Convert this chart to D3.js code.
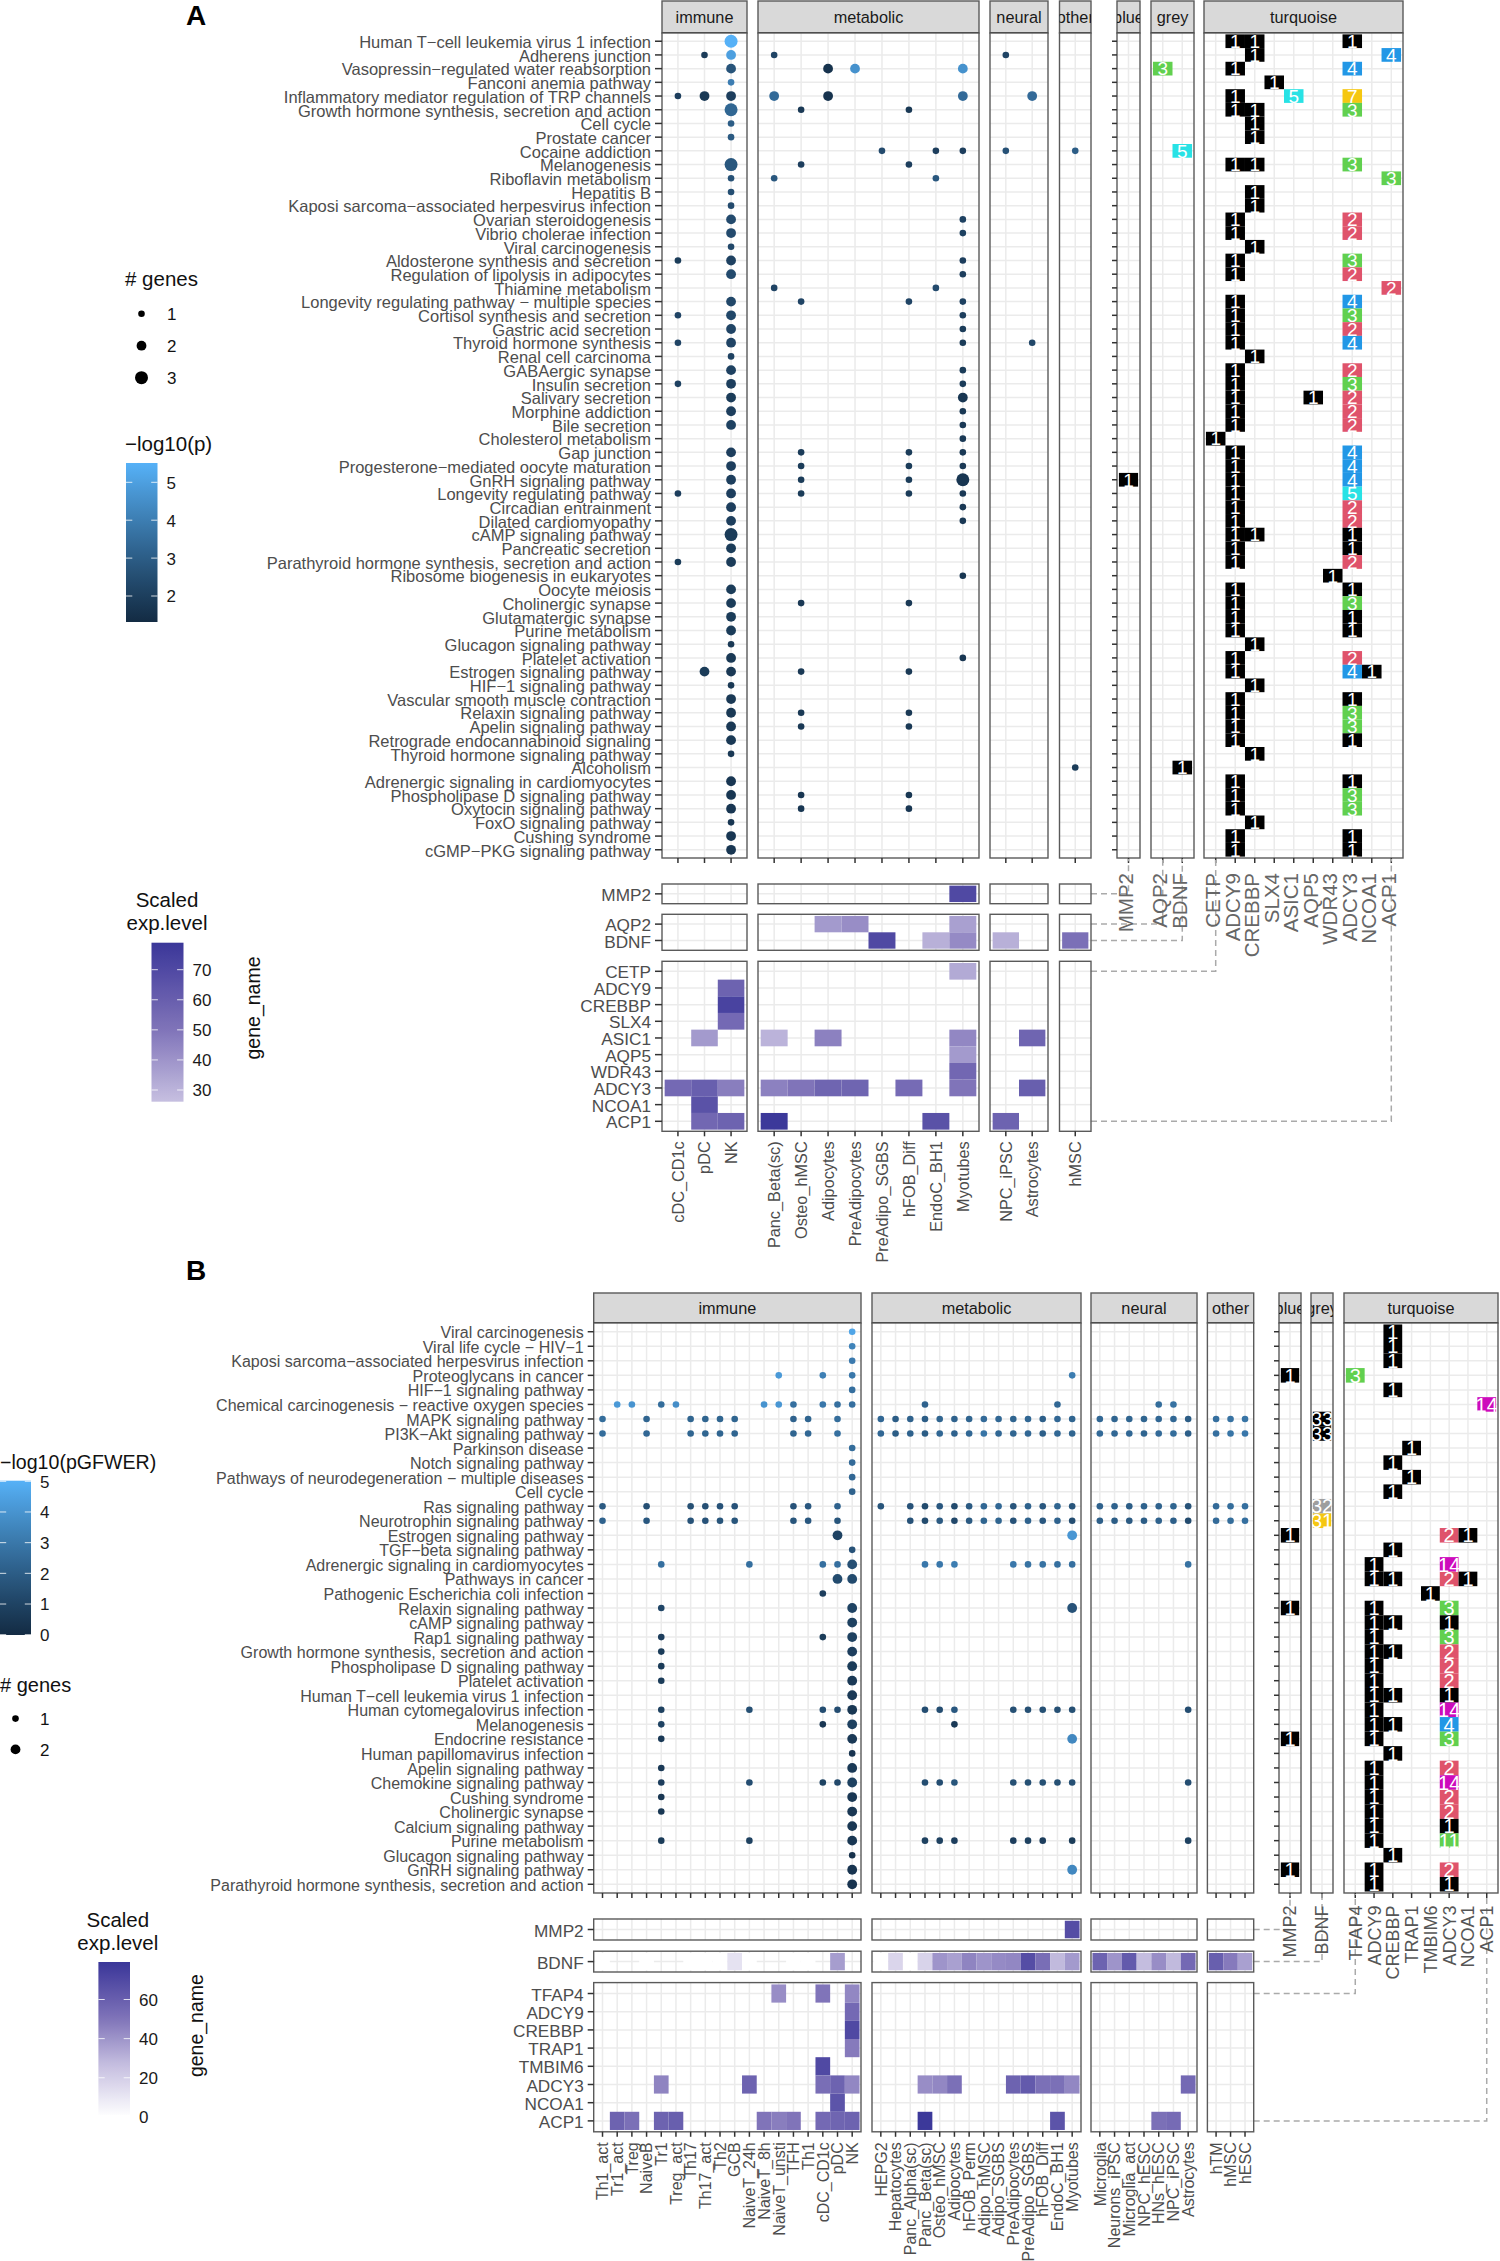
<!DOCTYPE html>
<html><head><meta charset="utf-8">
<script src="https://cdn.jsdelivr.net/npm/d3@7"></script>
<style>html,body{margin:0;padding:0;background:#fff}svg{display:block}text{font-family:"Liberation Sans",Arial,sans-serif}</style>
</head><body><svg id="fig" width="1500" height="2261"></svg>
<script>
// ---------- Panel A : categories ----------
const aPathways=["Human T−cell leukemia virus 1 infection","Adherens junction","Vasopressin−regulated water reabsorption","Fanconi anemia pathway","Inflammatory mediator regulation of TRP channels","Growth hormone synthesis, secretion and action","Cell cycle","Prostate cancer","Cocaine addiction","Melanogenesis","Riboflavin metabolism","Hepatitis B","Kaposi sarcoma−associated herpesvirus infection","Ovarian steroidogenesis","Vibrio cholerae infection","Viral carcinogenesis","Aldosterone synthesis and secretion","Regulation of lipolysis in adipocytes","Thiamine metabolism","Longevity regulating pathway − multiple species","Cortisol synthesis and secretion","Gastric acid secretion","Thyroid hormone synthesis","Renal cell carcinoma","GABAergic synapse","Insulin secretion","Salivary secretion","Morphine addiction","Bile secretion","Cholesterol metabolism","Gap junction","Progesterone−mediated oocyte maturation","GnRH signaling pathway","Longevity regulating pathway","Circadian entrainment","Dilated cardiomyopathy","cAMP signaling pathway","Pancreatic secretion","Parathyroid hormone synthesis, secretion and action","Ribosome biogenesis in eukaryotes","Oocyte meiosis","Cholinergic synapse","Glutamatergic synapse","Purine metabolism","Glucagon signaling pathway","Platelet activation","Estrogen signaling pathway","HIF−1 signaling pathway","Vascular smooth muscle contraction","Relaxin signaling pathway","Apelin signaling pathway","Retrograde endocannabinoid signaling","Thyroid hormone signaling pathway","Alcoholism","Adrenergic signaling in cardiomyocytes","Phospholipase D signaling pathway","Oxytocin signaling pathway","FoxO signaling pathway","Cushing syndrome","cGMP−PKG signaling pathway"];
const aImmune=["cDC_CD1c","pDC","NK"];
const aMetabolic=["Panc_Beta(sc)","Osteo_hMSC","Adipocytes","PreAdipocytes","PreAdipo_SGBS","hFOB_Diff","EndoC_BH1","Myotubes"];
const aNeural=["NPC_iPSC","Astrocytes"];
const aOther=["hMSC"];
const aGeneBlue=["MMP2"],aGeneGrey=["AQP2","BDNF"];
const aGeneTurq=["CETP","ADCY9","CREBBP","SLX4","ASIC1","AQP5","WDR43","ADCY3","NCOA1","ACP1"];

// Panel A dots: [pathway row (1-based), # genes, -log10(p)]
const aDots_cDC=[[5,1,2.0],[17,1,1.9],[21,1,2.2],[23,1,2.2],[26,1,2.1],[34,1,2.0],[39,1,1.9]];
const aDots_pDC=[[2,1,1.9],[5,2,1.8],[47,2,1.9]];
const aDots_NK=[[1,3,5.5],[2,2,5.0],[3,2,2.7],[4,1,4.0],[5,2,2.0],[6,3,3.3],[7,1,3.0],[8,1,2.9],[10,3,2.8],[11,1,2.6],[12,1,2.5],[13,1,2.4],[14,2,2.4],[15,2,2.4],[16,1,2.3],[17,2,2.1],[18,2,2.4],[20,2,2.3],[21,2,2.3],[22,2,2.2],[23,2,2.2],[24,1,2.1],[25,2,2.1],[26,2,2.0],[27,2,1.9],[28,2,2.0],[29,2,2.1],[31,2,2.0],[32,2,2.0],[33,2,2.0],[34,2,2.0],[35,2,2.0],[36,2,2.0],[37,3,1.9],[38,2,1.9],[39,2,1.9],[41,2,1.9],[42,2,1.9],[43,2,1.9],[44,2,1.9],[45,1,1.8],[46,2,1.8],[47,2,1.8],[48,1,1.8],[49,2,1.8],[50,2,1.8],[51,2,1.8],[52,2,1.8],[53,1,1.8],[55,2,1.7],[56,2,1.7],[57,2,1.7],[58,1,1.7],[59,2,1.7],[60,2,1.7]];
const aDots_Panc=[[2,1,2.2],[5,2,3.4],[11,1,2.8],[19,1,2.2]];
const aDots_Osteo=[[6,1,1.8],[10,1,2.0],[20,1,2.2],[31,1,1.9],[32,1,1.9],[33,1,1.9],[34,1,1.9],[42,1,1.8],[47,1,1.8],[50,1,1.8],[51,1,1.8],[56,1,1.7],[57,1,1.7]];
const aDots_Adipo=[[3,2,1.6],[5,2,1.6]];
const aDots_PreAdipo=[[3,2,4.6]];
const aDots_SGBS=[[9,1,2.4]];
const aDots_hFOB=[[6,1,1.8],[10,1,2.0],[20,1,2.2],[31,1,1.9],[32,1,1.9],[33,1,1.9],[34,1,1.9],[42,1,1.8],[47,1,1.8],[50,1,1.8],[51,1,1.8],[56,1,1.7],[57,1,1.7]];
const aDots_EndoC=[[9,1,2.0],[11,1,2.8],[19,1,2.4]];
const aDots_Myo=[[3,2,4.6],[5,2,3.4],[9,1,2.0],[14,1,2.1],[15,1,2.1],[17,1,2.0],[18,1,2.0],[20,1,2.1],[21,1,2.0],[22,1,1.9],[23,1,1.9],[25,1,1.9],[26,1,1.9],[27,2,1.7],[28,1,1.8],[29,1,1.8],[30,1,1.8],[31,1,1.8],[32,1,1.8],[33,3,1.7],[34,1,1.8],[35,1,1.8],[36,1,1.8],[40,1,1.7],[46,1,1.7]];
const aDots_NPC=[[2,1,2.2],[9,1,2.6]];
const aDots_Astro=[[5,2,3.4],[23,1,2.3]];
const aDots_hMSC=[[9,1,3.0],[54,1,1.9]];

// Panel A overlap tiles: [pathway row, count]
const aT_MMP2=[[33,1]],aT_AQP2=[[3,3]],aT_BDNF=[[9,5],[54,1]];
const aT_CETP=[[30,1]];
const aT_ADCY9=[1,3,5,6,10,14,15,17,18,20,21,22,23,25,26,27,28,29,31,32,33,34,35,36,37,38,39,41,42,43,44,46,47,49,50,51,52,55,56,57,59,60].map(r=>[r,1]);
const aT_CREBBP=[1,2,6,7,8,10,12,13,16,24,37,45,48,53,58].map(r=>[r,1]);
const aT_SLX4=[[4,1]],aT_ASIC1=[[5,5]],aT_AQP5=[[27,1]],aT_WDR43=[[40,1]];
const aT_ADCY3=[[1,1],[3,4],[5,7],[6,3],[10,3],[14,2],[15,2],[17,3],[18,2],[20,4],[21,3],[22,2],[23,4],[25,2],[26,3],[27,2],[28,2],[29,2],[31,4],[32,4],[33,4],[34,5],[35,2],[36,2],[37,1],[38,1],[39,2],[41,1],[42,3],[43,1],[44,1],[46,2],[47,4],[49,1],[50,3],[51,3],[52,1],[55,1],[56,3],[57,3],[59,1],[60,1]];
const aT_NCOA1=[[47,1]],aT_ACP1=[[2,4],[11,3],[19,2]];

// Panel A expression: [gene, cell, scaled level]
const aExpr=[["MMP2","Myotubes",70],["AQP2","Adipocytes",38],["AQP2","PreAdipocytes",42],["AQP2","Myotubes",36],["BDNF","PreAdipo_SGBS",70],["BDNF","EndoC_BH1",31],["BDNF","Myotubes",43],["BDNF","NPC_iPSC",31],["BDNF","hMSC",52],["CETP","Myotubes",33],["ADCY9","NK",58],["CREBBP","NK",73],["SLX4","NK",55],["ASIC1","pDC",38],["ASIC1","Panc_Beta(sc)",30],["ASIC1","Adipocytes",46],["ASIC1","Myotubes",44],["ASIC1","Astrocytes",57],["AQP5","Myotubes",38],["WDR43","Myotubes",56],["ADCY3","cDC_CD1c",55],["ADCY3","pDC",60],["ADCY3","NK",47],["ADCY3","Panc_Beta(sc)",46],["ADCY3","Osteo_hMSC",50],["ADCY3","Adipocytes",57],["ADCY3","PreAdipocytes",57],["ADCY3","hFOB_Diff",54],["ADCY3","Myotubes",50],["ADCY3","Astrocytes",60],["NCOA1","pDC",66],["ACP1","pDC",56],["ACP1","NK",58],["ACP1","Panc_Beta(sc)",78],["ACP1","EndoC_BH1",66],["ACP1","NPC_iPSC",58]];

// ---------- Panel B : categories ----------
const bPathways=["Viral carcinogenesis","Viral life cycle − HIV−1","Kaposi sarcoma−associated herpesvirus infection","Proteoglycans in cancer","HIF−1 signaling pathway","Chemical carcinogenesis − reactive oxygen species","MAPK signaling pathway","PI3K−Akt signaling pathway","Parkinson disease","Notch signaling pathway","Pathways of neurodegeneration − multiple diseases","Cell cycle","Ras signaling pathway","Neurotrophin signaling pathway","Estrogen signaling pathway","TGF−beta signaling pathway","Adrenergic signaling in cardiomyocytes","Pathways in cancer","Pathogenic Escherichia coli infection","Relaxin signaling pathway","cAMP signaling pathway","Rap1 signaling pathway","Growth hormone synthesis, secretion and action","Phospholipase D signaling pathway","Platelet activation","Human T−cell leukemia virus 1 infection","Human cytomegalovirus infection","Melanogenesis","Endocrine resistance","Human papillomavirus infection","Apelin signaling pathway","Chemokine signaling pathway","Cushing syndrome","Cholinergic synapse","Calcium signaling pathway","Purine metabolism","Glucagon signaling pathway","GnRH signaling pathway","Parathyroid hormone synthesis, secretion and action"];
const bImmune=["Th1_act","Tr1_act","Treg","NaiveB","Tr1","Treg_act","Th17","Th17_act","Th2","GCB","NaiveT_24h","NaiveT_8h","NaiveT_unsti","TFH","Th1","cDC_CD1c","pDC","NK"];
const bMetabolic=["HEPG2","Hepatocytes","Panc_Alpha(sc)","Panc_Beta(sc)","Osteo_hMSC","Adipocytes","hFOB_Perm","Adipo_hMSC","Adipo_SGBS","PreAdipocytes","PreAdipo_SGBS","hFOB_Diff","EndoC_BH1","Myotubes"];
const bNeural=["Microglia","Neurons_iPSC","Microglia_act","NPC_hESC","HNs_hESC","NPC_iPSC","Astrocytes"];
const bOther=["hTM","hMSC","hESC"];
const bGeneBlue=["MMP2"],bGeneGrey=["BDNF"];
const bGeneTurq=["TFAP4","ADCY9","CREBBP","TRAP1","TMBIM6","ADCY3","NCOA1","ACP1"];

// Panel B dots: [pathway row (1-based), # genes, [column indices in the facet], [-log10(pGFWER) per column]]
const bDotsImmune=[[1,1,[17],[4.6]],[2,1,[17],[3.4]],[3,1,[17],[3.1]],[4,1,[12,15,17],[4.2,3.3,3.0]],[5,1,[17],[2.7]],
[6,1,[1,2,4,5,11,12,13,15,16,17],[4.2,4.0,2.6,3.8,4.0,4.1,2.7,3.0,2.7,2.7]],
[7,1,[0,3,6,7,8,9,13,14,16],[2.6,2.3,2.3,2.3,2.3,2.3,2.2,2.3,2.6]],
[8,1,[0,3,6,7,8,9,13,14,16],[2.6,2.4,2.3,2.3,2.3,2.3,2.3,2.4,2.7]],
[9,1,[17],[2.6]],[10,1,[17],[2.5]],[11,1,[17],[2.4]],[12,1,[17],[2.2]],
[13,1,[0,3,6,7,8,9,13,14,16],[1.9,1.5,1.5,1.5,1.6,1.6,1.6,1.8,2.2]],
[14,1,[0,3,6,7,8,9,13,14,16],[2.2,1.8,1.6,1.6,1.7,1.7,1.7,1.8,1.7]],
[15,2,[16],[1.0]],[16,1,[17],[1.6]],[17,1,[4,10,15,16],[2.7,2.7,2.7,2.7]],[17,2,[17],[1.5]],[18,2,[16,17],[1.3,1.3]],[19,1,[15],[0.8]],
[20,1,[4],[1.1]],[20,2,[17],[1.0]],[21,2,[17],[0.9]],[22,1,[4,15],[0.8,0.7]],[22,2,[17],[0.9]],[23,1,[4],[0.7]],[23,2,[17],[0.8]],[24,1,[4],[0.7]],[24,2,[17],[0.7]],[25,1,[4],[0.7]],[25,2,[17],[0.6]],[26,2,[17],[0.6]],
[27,1,[4,10,15,16],[0.9,1.5,1.4,1.4]],[27,2,[17],[0.5]],[28,1,[4,15],[1.0,0.5]],[28,2,[17],[0.9]],[29,1,[4],[0.6]],[29,2,[17],[0.6]],[30,1,[17],[0.4]],[31,1,[4],[0.6]],[31,2,[17],[0.6]],
[32,1,[4,10,15,16],[0.8,1.4,1.0,1.2]],[32,2,[17],[0.9]],[33,1,[4],[0.5]],[33,2,[17],[0.5]],[34,1,[4],[0.5]],[34,2,[17],[0.5]],[35,2,[17],[0.5]],[36,1,[4,10],[0.7,0.9]],[36,2,[17],[0.5]],[37,1,[17],[0.3]],[38,2,[17],[0.4]],[39,2,[17],[0.4]]];
const bDotsMetabolic=[[4,1,[13],[3.2]],[6,1,[3,12],[2.2,2.4]],
[7,1,[0,1,2,3,4,5,6,7,8,9,10,11,12,13],[2.4,2.0,2.2,2.0,2.3,2.2,2.3,2.5,2.4,2.3,2.4,2.1,2.4,2.3]],
[8,1,[0,1,2,3,4,5,6,7,8,9,10,11,12,13],[2.4,2.0,2.2,2.0,2.4,2.2,2.4,2.9,2.4,2.3,2.4,2.1,2.4,2.3]],
[13,1,[0,2,3,4,5,6,7,8,9,10,11,12,13],[1.7,1.6,1.3,1.8,1.3,1.9,2.4,2.4,1.7,2.2,1.8,2.3,1.7]],
[14,1,[2,3,4,5,6,7,8,9,10,11,12,13],[1.6,1.3,1.9,1.2,1.9,2.3,2.3,1.6,2.2,1.8,2.2,1.4]],
[15,2,[13],[4.1]],[17,1,[3,4,5,9,10,11,12,13],[3.0,3.0,3.2,3.0,2.8,2.8,2.7,2.7]],[20,2,[13],[1.6]],
[27,1,[3,4,5,9,10,11,12,13],[1.4,1.4,1.8,1.5,1.5,1.5,1.5,1.5]],[28,1,[5],[0.6]],[29,2,[13],[3.6]],
[32,1,[3,4,5,9,10,11,12,13],[1.4,1.4,1.7,1.5,1.5,1.5,1.5,1.5]],[36,1,[3,4,5,9,10,11,13],[0.9,0.9,0.8,0.8,0.9,0.8,0.7]],[38,2,[13],[3.6]]];
const bDotsNeural=[[6,1,[4,5],[2.6,2.8]],
[7,1,[0,1,2,3,4,5,6],[2.4,2.3,2.3,2.3,2.4,2.4,2.0]],[8,1,[0,1,2,3,4,5,6],[2.5,2.4,2.4,2.3,2.5,2.6,2.1]],
[13,1,[0,1,2,3,4,5,6],[2.2,2.2,2.0,2.2,2.2,2.3,1.6]],[14,1,[0,1,2,3,4,5,6],[2.1,2.0,1.9,2.0,2.2,2.1,1.3]],
[17,1,[6],[2.8]],[27,1,[6],[1.4]],[32,1,[6],[1.4]],[36,1,[6],[0.9]]];
const bDotsOther=[[7,1,[0,1,2],[2.7,2.8,2.9]],[8,1,[0,1,2],[2.7,2.9,3.0]],[13,1,[0,1,2],[2.5,2.6,2.7]],[14,1,[0,1,2],[2.5,2.6,2.7]]];

// Panel B overlap tiles: [pathway row, count]
const bT_MMP2=[4,15,20,29,38].map(r=>[r,1]);
const bT_BDNF=[[7,33],[8,33],[13,32],[14,31]];
const bT_TFAP4=[[4,3]];
const bT_ADCY9=[17,18,20,21,22,23,24,25,26,27,28,29,31,32,33,34,35,36,38,39].map(r=>[r,1]);
const bT_CREBBP=[1,2,3,5,10,12,16,18,21,23,26,28,30,37].map(r=>[r,1]);
const bT_TRAP1=[[9,1],[11,1]],bT_TMBIM6=[[19,1]];
const bT_ADCY3=[[15,2],[17,14],[18,2],[20,3],[21,1],[22,3],[23,2],[24,2],[25,2],[26,1],[27,14],[28,4],[29,3],[31,2],[32,14],[33,2],[34,2],[35,1],[36,11],[38,2],[39,1]];
const bT_NCOA1=[[15,1],[18,1]],bT_ACP1=[[6,14]];

// Panel B expression: [gene, cell, scaled level]
const bExprImmune=[["BDNF","Th1_act",0],["BDNF","NaiveB",0],["BDNF","Th17",0],["BDNF","Th17_act",0],["BDNF","Th2",0],["BDNF","GCB",12],["BDNF","NaiveT_24h",0],["BDNF","TFH",0],["BDNF","Th1",0],["BDNF","pDC",37],
["TFAP4","NaiveT_unsti",42],["TFAP4","cDC_CD1c",50],["TFAP4","NK",44],["ADCY9","NK",55],["CREBBP","NK",70],["TRAP1","NK",48],["TMBIM6","cDC_CD1c",70],
["ADCY3","Tr1",45],["ADCY3","NaiveT_24h",58],["ADCY3","cDC_CD1c",53],["ADCY3","pDC",58],["ADCY3","NK",44],["NCOA1","pDC",65],
["ACP1","Tr1_act",58],["ACP1","Treg",52],["ACP1","Tr1",58],["ACP1","Treg_act",60],["ACP1","NaiveT_8h",50],["ACP1","NaiveT_unsti",47],["ACP1","TFH",50],["ACP1","cDC_CD1c",55],["ACP1","pDC",57],["ACP1","NK",58]];
const bExprOther=[["MMP2","Myotubes",68],
["BDNF","HEPG2",0],["BDNF","Hepatocytes",17],["BDNF","Panc_Alpha(sc)",0],["BDNF","Panc_Beta(sc)",18],["BDNF","Osteo_hMSC",40],["BDNF","Adipocytes",36],["BDNF","hFOB_Perm",45],["BDNF","Adipo_hMSC",40],["BDNF","Adipo_SGBS",43],["BDNF","PreAdipocytes",44],["BDNF","PreAdipo_SGBS",68],["BDNF","hFOB_Diff",53],["BDNF","EndoC_BH1",28],["BDNF","Myotubes",38],
["BDNF","Microglia",58],["BDNF","Neurons_iPSC",40],["BDNF","Microglia_act",62],["BDNF","NPC_hESC",27],["BDNF","HNs_hESC",42],["BDNF","NPC_iPSC",28],["BDNF","Astrocytes",55],["BDNF","hTM",60],["BDNF","hMSC",48],["BDNF","hESC",36],
["ADCY3","Panc_Beta(sc)",42],["ADCY3","Osteo_hMSC",44],["ADCY3","Adipocytes",52],["ADCY3","PreAdipocytes",58],["ADCY3","PreAdipo_SGBS",62],["ADCY3","hFOB_Diff",52],["ADCY3","EndoC_BH1",52],["ADCY3","Myotubes",44],["ADCY3","Astrocytes",55],
["ACP1","Panc_Beta(sc)",78],["ACP1","EndoC_BH1",65],["ACP1","HNs_hESC",52],["ACP1","NPC_iPSC",54]];

// Tick labels of the legends
const aColorTicks=[2,3,4,5],aExprTicks=[30,40,50,60,70],bColorTicks=[0,1,2,3,4,5],bExprTicks=[0,20,40,60];
const aSizes=[1,2,3],bSizes=[1,2];

// ---------- Scales & styles ----------
const svg=d3.select("#fig");
const defs=svg.append("defs");
const radius=d3.scaleOrdinal([1,2,3],[3.3,4.9,6.5]);
const rPalette=["#9E9E9E","#000000","#DF536B","#61D04F","#2297E6","#28E2E5","#CD0BBC","#F5C710"];
const heat=d3.scaleLinear([0,27,50,70,79],["#FFFFFF","#C4BDDF","#8074B9","#5049A3","#3A3799"]).clamp(true);
const pA=d3.scaleLinear([1.32,5.5],["#132B43","#56B1F7"]).interpolate(d3.interpolateLab);
const pB=d3.scaleLinear([0,5.02],["#132B43","#56B1F7"]).interpolate(d3.interpolateLab);
const INK="#4D4D4D",BORDER="#5A5A5A",GRID="#EBEBEB";
let clipId=0;

function band(domain,a,b){return d3.scaleBand().domain(domain).range([a,b]).paddingInner(0).paddingOuter(0.1);}
function mid(s,v){return s(v)+s.bandwidth()/2;}

function panelFrame(x,y){
  const [x0,x1]=x.range(),[y0,y1]=y.range();
  const g=svg.append("g");
  g.append("rect").attr("x",x0).attr("y",y0).attr("width",x1-x0).attr("height",y1-y0).attr("fill","#fff");
  g.selectAll(".gx").data(x.domain()).join("line").attr("x1",d=>mid(x,d)).attr("x2",d=>mid(x,d)).attr("y1",y0).attr("y2",y1).attr("stroke",GRID).attr("stroke-width",1.5);
  g.selectAll(".gy").data(y.domain()).join("line").attr("y1",d=>mid(y,d)).attr("y2",d=>mid(y,d)).attr("x1",x0).attr("x2",x1).attr("stroke",GRID).attr("stroke-width",1.5);
  return g;
}
function border(x,y,g){
  const [x0,x1]=x.range(),[y0,y1]=y.range();
  g.append("rect").attr("x",x0).attr("y",y0).attr("width",x1-x0).attr("height",y1-y0).attr("fill","none").attr("stroke",BORDER).attr("stroke-width",1.4);
}
function strip(name,x0,x1,y0,y1,fs){
  const id="clip"+(++clipId);
  defs.append("clipPath").attr("id",id).append("rect").attr("x",x0).attr("y",y0).attr("width",x1-x0).attr("height",y1-y0);
  const g=svg.append("g");
  g.append("rect").attr("x",x0).attr("y",y0).attr("width",x1-x0).attr("height",y1-y0).attr("fill","#D9D9D9").attr("stroke",BORDER).attr("stroke-width",1.4);
  g.append("line").attr("x1",x0).attr("x2",x1).attr("y1",y1).attr("y2",y1).attr("stroke","#333").attr("stroke-width",1.8);
  g.append("text").attr("clip-path",`url(#${id})`).attr("x",(x0+x1)/2).attr("y",(y0+y1)/2).attr("dy","0.36em").attr("text-anchor","middle").attr("font-size",fs).attr("fill","#1A1A1A").text(name);
}
function yAxis(y,x0,tick,gap,fs){
  const g=svg.append("g");
  g.selectAll("line").data(y.domain()).join("line").attr("x1",x0-tick).attr("x2",x0).attr("y1",d=>mid(y,d)).attr("y2",d=>mid(y,d)).attr("stroke","#333").attr("stroke-width",1.5);
  if(gap!==null) g.selectAll("text").data(y.domain()).join("text").attr("x",x0-tick-gap).attr("y",d=>mid(y,d)).attr("dy","0.41em").attr("text-anchor","end").attr("font-size",fs).attr("fill",INK).text(d=>d);
}
function xTicks(x,y1){
  svg.append("g").selectAll("line").data(x.domain()).join("line").attr("x1",d=>mid(x,d)).attr("x2",d=>mid(x,d)).attr("y1",y1).attr("y2",y1+5).attr("stroke","#333").attr("stroke-width",1.5);
}
function xLabels(x,yTop,fs,fill,dx){
  svg.append("g").selectAll("text").data(x.domain()).join("text")
    .attr("transform",d=>`translate(${mid(x,d)+dx},${yTop}) rotate(-90)`).attr("dy","0.36em").attr("text-anchor","end").attr("font-size",fs).attr("fill",fill).text(d=>d);
}
function dots(g,x,y,rows,color,items){
  // items : [cell, row, n, value]
  g.selectAll("circle").data(items).join("circle").attr("cx",d=>mid(x,d[0])).attr("cy",d=>mid(y,rows[d[1]-1])).attr("r",d=>radius(d[2])).attr("fill",d=>color(d[3]));
}
function tiles(g,x,y,rows,items,fs){
  // items : [gene, row, count]
  g.selectAll("rect.t").data(items).join("rect").attr("class","t").attr("x",d=>x(d[0])).attr("y",d=>y(rows[d[1]-1])).attr("width",x.bandwidth()).attr("height",y.bandwidth()).attr("fill",d=>rPalette[d[2]%8]);
  g.selectAll("text.t").data(items).join("text").attr("class","t").attr("x",d=>mid(x,d[0])).attr("y",d=>mid(y,rows[d[1]-1])).attr("dy","0.36em").attr("text-anchor","middle").attr("font-size",fs).attr("fill","#fff").text(d=>d[2]);
}
function heatTiles(g,x,y,items){
  const cur=items.filter(d=>y.domain().includes(d[0])&&x.domain().includes(d[1]));
  g.selectAll("rect.h").data(cur).join("rect").attr("class","h").attr("x",d=>x(d[1])).attr("y",d=>y(d[0])).attr("width",x.bandwidth()).attr("height",y.bandwidth()).attr("fill",d=>heat(d[2]));
}
function connector(xStart,yRow,xGene,yTop){
  svg.append("path").attr("d",d3.line()([[xStart,yRow],[xGene,yRow],[xGene,yTop]])).attr("fill","none").attr("stroke","#AAAAAA").attr("stroke-width",1.5).attr("stroke-dasharray","6,4");
}
function colorBar(x0,x1,y0,y1,scale,ticks,id){
  const grad=defs.append("linearGradient").attr("id",id).attr("x1",0).attr("x2",0).attr("y1",1).attr("y2",0);
  const vy=scale.pos;
  d3.range(0,1.001,0.05).forEach(t=>{const v=vy.invert(y1+(y0-y1)*t);grad.append("stop").attr("offset",t).attr("stop-color",scale.col(v));});
  const g=svg.append("g");
  g.append("rect").attr("x",x0).attr("y",y0).attr("width",x1-x0).attr("height",y1-y0).attr("fill",`url(#${id})`);
  const tw=(x1-x0)/5;
  g.selectAll("line.a").data(ticks).join("line").attr("class","a").attr("x1",x0).attr("x2",x0+tw).attr("y1",d=>vy(d)).attr("y2",d=>vy(d)).attr("stroke","#fff").attr("stroke-opacity",.8);
  g.selectAll("line.b").data(ticks).join("line").attr("class","b").attr("x1",x1-tw).attr("x2",x1).attr("y1",d=>vy(d)).attr("y2",d=>vy(d)).attr("stroke","#fff").attr("stroke-opacity",.8);
  g.selectAll("text").data(ticks).join("text").attr("x",x1+9).attr("y",d=>vy(d)).attr("dy","0.38em").attr("font-size",17).attr("fill","#1A1A1A").text(d=>d);
}
function label(x,y,t,fs,anchor="start",extra={}){
  const e=svg.append("text").attr("x",x).attr("y",y).attr("font-size",fs).attr("text-anchor",anchor).attr("fill","#111").text(t);
  Object.entries(extra).forEach(([k,v])=>e.attr(k,v));return e;
}

// ---------- Generic composition ----------
function composite(cfg){
  const y=band(cfg.rows,cfg.dotTop,cfg.dotBottom);
  let first=true;
  cfg.facets.forEach(f=>{
    const x=band(f.cells,f.x0,f.x1);
    f.x=x;
    strip(f.name,f.x0,f.x1,cfg.stripTop,cfg.dotTop,16.3);
    const g=panelFrame(x,y);
    dots(g,x,y,cfg.rows,cfg.color,f.dots);
    border(x,y,g);
    if(first){yAxis(y,f.x0,cfg.tick,4,cfg.rowFont);first=false;}
    xTicks(x,cfg.dotBottom);
  });
  let firstR=true;
  cfg.tileFacets.forEach(f=>{
    const x=band(f.genes,f.x0,f.x1);
    f.x=x;
    strip(f.name,f.x0,f.x1,cfg.stripTop,cfg.dotTop,16.3);
    const g=panelFrame(x,y);
    tiles(g,x,y,cfg.rows,f.tiles,cfg.digitFont);
    border(x,y,g);
    if(firstR){yAxis(y,f.x0,5,null);firstR=false;}
    xTicks(x,cfg.dotBottom);
  });
  const lastRight=cfg.facets[cfg.facets.length-1].x1;
  cfg.heatGroups.forEach(grp=>{
    const yh=band(grp.genes,grp.y0,grp.y1);
    grp.y=yh;
    grp.links.forEach(gene=>{
      const tf=cfg.tileFacets.find(t=>t.genes.includes(gene));
      connector(lastRight,mid(yh,gene),mid(tf.x,gene),cfg.dotBottom+1);
    });
  });
  cfg.tileFacets.forEach(f=>xLabels(f.x,cfg.geneTop,cfg.geneFont,cfg.geneInk,cfg.geneDx));
  cfg.heatGroups.forEach((grp,gi)=>{
    cfg.facets.forEach((f,fi)=>{
      const g=panelFrame(f.x,grp.y);
      heatTiles(g,f.x,grp.y,cfg.expr);
      border(f.x,grp.y,g);
      if(fi===0) yAxis(grp.y,f.x0,cfg.tick,4,cfg.geneAxisFont);
      if(gi===cfg.heatGroups.length-1){xTicks(f.x,grp.y1);xLabels(f.x,grp.y1+cfg.cellGap,cfg.cellFont,INK,0);}
    });
  });
}
const flat=(cell,arr)=>arr.map(d=>[cell,d[0],d[1],d[2]]);
const flatT=(gene,arr)=>arr.map(d=>[gene,d[0],d[1]]);
const flatB=(cells,arr)=>arr.flatMap(([r,n,cols,vals])=>cols.map((c,i)=>[cells[c],r,n,vals[i]]));

// ---------- Panel A ----------
composite({
  rows:aPathways,stripTop:1,dotTop:33,dotBottom:858,tick:7,rowFont:16.5,digitFont:19,color:pA,
  geneTop:873,geneFont:20.5,geneInk:"#666666",geneDx:-3,geneAxisFont:17.2,cellFont:16.3,cellGap:10,expr:aExpr,
  facets:[
    {name:"immune",x0:662,x1:747,cells:aImmune,dots:[...flat("cDC_CD1c",aDots_cDC),...flat("pDC",aDots_pDC),...flat("NK",aDots_NK)]},
    {name:"metabolic",x0:758,x1:979,cells:aMetabolic,dots:[...flat("Panc_Beta(sc)",aDots_Panc),...flat("Osteo_hMSC",aDots_Osteo),...flat("Adipocytes",aDots_Adipo),...flat("PreAdipocytes",aDots_PreAdipo),...flat("PreAdipo_SGBS",aDots_SGBS),...flat("hFOB_Diff",aDots_hFOB),...flat("EndoC_BH1",aDots_EndoC),...flat("Myotubes",aDots_Myo)]},
    {name:"neural",x0:990,x1:1048,cells:aNeural,dots:[...flat("NPC_iPSC",aDots_NPC),...flat("Astrocytes",aDots_Astro)]},
    {name:"other",x0:1059.5,x1:1091,cells:aOther,dots:flat("hMSC",aDots_hMSC)}
  ],
  tileFacets:[
    {name:"blue",x0:1117,x1:1140,genes:aGeneBlue,tiles:flatT("MMP2",aT_MMP2)},
    {name:"grey",x0:1151,x1:1194,genes:aGeneGrey,tiles:[...flatT("AQP2",aT_AQP2),...flatT("BDNF",aT_BDNF)]},
    {name:"turquoise",x0:1204,x1:1403,genes:aGeneTurq,tiles:[...flatT("CETP",aT_CETP),...flatT("ADCY9",aT_ADCY9),...flatT("CREBBP",aT_CREBBP),...flatT("SLX4",aT_SLX4),...flatT("ASIC1",aT_ASIC1),...flatT("AQP5",aT_AQP5),...flatT("WDR43",aT_WDR43),...flatT("ADCY3",aT_ADCY3),...flatT("NCOA1",aT_NCOA1),...flatT("ACP1",aT_ACP1)]}
  ],
  heatGroups:[
    {genes:["MMP2"],y0:884,y1:903.7,links:["MMP2"]},
    {genes:["AQP2","BDNF"],y0:914.3,y1:950.3,links:["AQP2","BDNF"]},
    {genes:aGeneTurq,y0:961.3,y1:1131.3,links:["CETP","ACP1"]}
  ]
});
label(186,25,"A",28,"start",{"font-weight":"bold","fill":"#000"});
label(125,286,"# genes",20.5);
aSizes.forEach(s=>{
  const cy=d3.scaleLinear([1,3],[313.7,377.7])(s);
  svg.append("circle").attr("cx",141.5).attr("cy",cy).attr("r",radius(s)).attr("fill","#000");
  label(167,cy,s,17,"start",{dy:"0.38em"});
});
label(125,451,"−log10(p)",20.5);
colorBar(126,157.5,463,622,{pos:d3.scaleLinear([5,2],[482.3,596]),col:pA},aColorTicks,"gA");
label(167,907,"Scaled",20.5,"middle");label(167,930,"exp.level",20.5,"middle");
colorBar(151.5,183.5,942.7,1101.7,{pos:d3.scaleLinear([70,30],[969.7,1090]),col:heat},aExprTicks,"hA");
label(0,0,"gene_name",19.5,"middle",{transform:"translate(252.5,1008) rotate(-90)",dy:"0.36em"});

// ---------- Panel B ----------
composite({
  rows:bPathways,stripTop:1293,dotTop:1323,dotBottom:1893,tick:6,rowFont:16.05,digitFont:20,color:pB,
  geneTop:1905.5,geneFont:18,geneInk:"#555555",geneDx:0,geneAxisFont:17.2,cellFont:16,cellGap:10.5,expr:[...bExprImmune,...bExprOther],
  facets:[
    {name:"immune",x0:593.7,x1:861,cells:bImmune,dots:flatB(bImmune,bDotsImmune)},
    {name:"metabolic",x0:872,x1:1081,cells:bMetabolic,dots:flatB(bMetabolic,bDotsMetabolic)},
    {name:"neural",x0:1091,x1:1197,cells:bNeural,dots:flatB(bNeural,bDotsNeural)},
    {name:"other",x0:1207.4,x1:1253.7,cells:bOther,dots:flatB(bOther,bDotsOther)}
  ],
  tileFacets:[
    {name:"blue",x0:1279,x1:1301,genes:bGeneBlue,tiles:flatT("MMP2",bT_MMP2)},
    {name:"grey",x0:1311,x1:1333,genes:bGeneGrey,tiles:flatT("BDNF",bT_BDNF)},
    {name:"turquoise",x0:1344,x1:1498,genes:bGeneTurq,tiles:[...flatT("TFAP4",bT_TFAP4),...flatT("ADCY9",bT_ADCY9),...flatT("CREBBP",bT_CREBBP),...flatT("TRAP1",bT_TRAP1),...flatT("TMBIM6",bT_TMBIM6),...flatT("ADCY3",bT_ADCY3),...flatT("NCOA1",bT_NCOA1),...flatT("ACP1",bT_ACP1)]}
  ],
  heatGroups:[
    {genes:["MMP2"],y0:1919,y1:1940,links:["MMP2"]},
    {genes:["BDNF"],y0:1951.2,y1:1972,links:["BDNF"]},
    {genes:bGeneTurq,y0:1982.6,y1:2131.8,links:["TFAP4","ACP1"]}
  ]
});
label(186,1280,"B",28,"start",{"font-weight":"bold","fill":"#000"});
label(0,1469,"−log10(pGFWER)",19.6);
colorBar(0,31,1480.7,1635,{pos:d3.scaleLinear([5,0],[1481.3,1634.7]),col:pB},bColorTicks,"gB");
label(0,1692,"# genes",20);
bSizes.forEach(s=>{
  const cy=d3.scaleLinear([1,2],[1718.6,1749.4])(s);
  svg.append("circle").attr("cx",15.5).attr("cy",cy).attr("r",radius(s)).attr("fill","#000");
  label(40,cy,s,17,"start",{dy:"0.38em"});
});
label(117.8,1927,"Scaled",20.5,"middle");label(117.8,1950,"exp.level",20.5,"middle");
colorBar(98.4,130,1962,2115,{pos:d3.scaleLinear([60,0],[1999.5,2116.9]),col:heat},bExprTicks,"hB");
label(0,0,"gene_name",19.5,"middle",{transform:"translate(196,2025.6) rotate(-90)",dy:"0.36em"});
</script></body></html>
